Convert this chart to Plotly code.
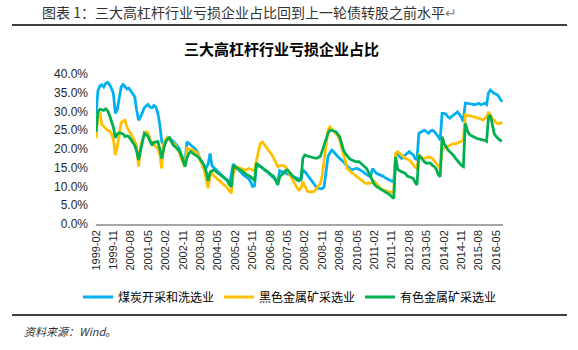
import plotly.graph_objects as go
import pandas as pd

# ---------------- data ----------------
months = [d.strftime('%Y-%m') for d in pd.date_range('1999-02-01', '2016-08-01', freq='MS')]

tick_labels = ['1999-02', '1999-11', '2000-08', '2001-05', '2002-02', '2002-11', '2003-08',
               '2004-05', '2005-02', '2005-11', '2006-08', '2007-05', '2008-02', '2008-11',
               '2009-08', '2010-05', '2011-02', '2011-11', '2012-08', '2013-05', '2014-02',
               '2014-11', '2015-08', '2016-05']

series_names = ['煤炭开采和洗选业', '黑色金属矿采选业', '有色金属矿采选业']

coal = [
    29.5, 35.5, 36.8, 37.1, 36.5, 37.5, 37.8, 37.2, 36.2, 34.8, 29.5,             # 1999
    30.5, 33.5, 36.5, 37.2, 36.5, 36.0, 36.2, 35.5, 35.0, 34.0, 30.5, 27.7,       # 2000
    28.5, 30.0, 31.0, 31.5, 31.9, 31.2, 31.0, 31.6, 31.2, 29.5, 26.5, 22.0,       # 2001
    21.0, 22.0, 23.1, 22.8, 22.5, 22.0, 21.4, 20.8, 20.2, 18.5, 17.5, 16.2,       # 2002
    21.9, 21.5, 21.0, 20.6, 20.2, 19.5, 18.5, 17.0, 16.0, 14.8, 15.0, 16.0,       # 2003
    18.8, 15.5, 15.0, 14.5, 14.0, 13.6, 13.0, 12.5, 12.0, 11.5, 10.5, 13.0,       # 2004
    16.0, 15.5, 15.0, 14.5, 13.8, 13.2, 12.8, 12.5, 12.0, 11.2, 10.0, 10.2,       # 2005
    16.2, 15.5, 15.3, 15.0, 14.5, 14.2, 13.8, 13.2, 12.8, 12.3, 11.8, 11.3,       # 2006
    14.2, 14.0, 13.8, 13.6, 13.4, 13.2, 12.9, 12.7, 12.4, 12.2, 12.0, 11.8,       # 2007
    14.4, 14.0, 13.3, 12.6, 12.0, 11.3, 10.7, 9.8, 9.5, 9.5, 9.4, 10.0,           # 2008
    14.5, 18.0, 19.0, 19.7, 19.2, 18.5, 18.0, 17.5, 17.1, 16.6, 16.0, 15.5,       # 2009
    14.8, 14.4, 14.6, 14.8, 14.8, 14.6, 14.4, 14.0, 13.5, 13.2, 12.9, 12.6,       # 2010
    14.8, 14.0, 13.5, 13.3, 13.1, 13.0, 12.6, 12.2, 11.9, 11.6, 11.3, 11.2,       # 2011
    18.4, 18.8, 18.0, 17.5, 18.0, 18.4, 19.0, 19.3, 18.8, 18.5, 17.5, 17.1,       # 2012
    24.2, 24.6, 24.8, 25.0, 24.5, 24.2, 24.8, 25.0, 24.6, 24.0, 23.3, 22.4,       # 2013
    29.5, 29.5, 29.3, 28.6, 28.2, 28.7, 29.1, 29.5, 29.9, 29.2, 28.5, 27.3,       # 2014
    32.2, 32.2, 32.2, 32.0, 31.9, 31.8, 32.0, 32.2, 31.8, 31.9, 32.2, 31.8,       # 2015
    35.0, 35.7, 35.2, 34.8, 34.6, 34.2, 33.4, 32.6,                               # 2016
]

ferrous = [
    22.9, 29.0, 29.8, 26.5, 26.0, 25.5, 25.0, 24.8, 24.0, 22.5, 18.4,             # 1999
    20.5, 24.0, 27.0, 27.5, 27.7, 25.8, 25.0, 24.2, 23.1, 22.0, 21.0, 15.3,       # 2000
    20.2, 22.5, 23.7, 24.6, 24.2, 22.4, 21.8, 21.0, 20.5, 20.2, 18.5, 14.8,       # 2001
    21.5, 22.5, 23.1, 22.5, 22.1, 21.5, 21.0, 20.0, 19.3, 17.5, 16.5, 15.3,       # 2002
    20.2, 20.0, 19.8, 19.5, 19.5, 19.0, 18.5, 17.0, 15.5, 14.4, 12.0, 9.5,        # 2003
    13.0, 13.5, 12.8, 12.3, 11.8, 11.3, 10.9, 10.5, 10.2, 9.6, 8.8, 8.2,          # 2004
    13.5, 14.5, 15.3, 15.0, 14.8, 14.8, 14.4, 14.5, 14.8, 14.6, 14.4, 14.2,       # 2005
    17.0, 19.5, 21.5, 21.9, 21.2, 20.6, 20.0, 19.3, 18.4, 17.5, 16.6, 15.3,       # 2006
    15.5, 15.7, 15.5, 15.3, 14.4, 13.2, 12.4, 11.5, 10.4, 9.6, 9.1, 9.5,          # 2007
    11.3, 10.0, 9.0, 8.6, 8.5, 8.6, 8.8, 9.5, 10.4, 10.8, 13.0, 17.0,             # 2008
    21.0, 25.0, 25.9, 25.3, 24.8, 24.4, 23.5, 22.4, 20.5, 18.5, 16.5, 14.8,       # 2009
    14.3, 13.8, 13.4, 13.0, 12.6, 12.2, 11.7, 11.3, 11.0, 10.8, 10.8, 10.8,       # 2010
    11.0, 11.3, 10.7, 10.0, 9.6, 9.2, 9.0, 8.8, 8.6, 8.4, 8.4, 8.6,               # 2011
    18.8, 19.3, 18.8, 18.4, 18.0, 17.5, 17.3, 17.1, 16.5, 15.7, 15.2, 14.8,       # 2012
    18.4, 18.0, 17.6, 17.5, 17.7, 17.9, 17.7, 17.5, 16.8, 16.2, 15.5, 14.8,       # 2013
    19.8, 20.3, 20.6, 20.7, 21.0, 21.1, 21.5, 21.4, 21.7, 21.9, 22.0, 22.4,       # 2014
    29.1, 29.0, 28.7, 28.6, 28.7, 28.5, 28.3, 28.2, 28.0, 27.7, 28.0, 28.5,       # 2015
    29.9, 29.0, 28.0, 27.7, 27.0, 26.8, 26.8, 27.2,                               # 2016
]

nonferrous = [
    24.6, 30.0, 30.6, 30.4, 30.3, 30.7, 30.2, 29.0, 27.5, 25.8, 23.0,             # 1999
    24.0, 24.3, 24.2, 24.0, 23.3, 23.5, 23.3, 22.5, 21.5, 21.0, 19.5, 17.1,       # 2000
    19.5, 22.0, 24.2, 23.8, 23.3, 22.0, 21.0, 21.8, 22.0, 22.0, 20.0, 17.5,       # 2001
    20.0, 21.9, 22.6, 23.0, 22.0, 21.0, 20.6, 20.0, 19.5, 18.5, 17.0, 15.3,       # 2002
    17.5, 18.8, 19.3, 18.8, 18.5, 18.2, 17.8, 17.1, 16.5, 15.5, 14.0, 11.5,       # 2003
    13.8, 14.2, 14.4, 14.0, 13.6, 13.3, 13.0, 12.6, 12.2, 11.7, 10.5, 9.9,        # 2004
    15.3, 15.2, 14.9, 14.6, 14.3, 14.0, 13.6, 13.1, 12.8, 12.6, 12.0, 11.7,       # 2005
    16.2, 15.8, 15.3, 14.8, 14.4, 14.0, 13.6, 13.3, 13.0, 12.6, 11.5, 10.4,       # 2006
    12.5, 13.1, 13.8, 14.2, 14.4, 13.8, 13.0, 12.6, 12.2, 11.7, 11.5, 12.0,       # 2007
    17.5, 18.4, 18.2, 18.0, 17.9, 17.8, 17.6, 17.5, 17.8, 18.0, 19.5, 21.0,       # 2008
    23.0, 24.2, 25.0, 25.0, 24.8, 24.6, 24.0, 23.3, 21.5, 19.7, 18.8, 18.0,       # 2009
    17.5, 17.1, 16.8, 16.7, 16.6, 16.6, 16.2, 15.8, 15.3, 14.8, 13.8, 12.8,       # 2010
    11.5, 10.5, 10.0, 9.7, 9.3, 8.9, 8.6, 8.5, 8.2, 7.8, 7.2, 6.8,                # 2011
    17.9, 14.6, 14.2, 13.9, 13.7, 13.5, 12.8, 12.6, 12.4, 12.2, 11.2, 10.4,       # 2012
    18.4, 17.6, 17.1, 16.5, 16.2, 16.3, 16.2, 15.6, 15.3, 14.6, 13.2, 12.6,       # 2013
    23.3, 21.5, 20.5, 19.8, 19.3, 18.8, 18.2, 17.5, 16.8, 16.2, 15.6, 15.3,       # 2014
    26.8, 25.0, 24.0, 23.6, 23.3, 23.0, 22.8, 22.7, 22.6, 22.4, 22.3, 22.0,       # 2015
    28.5, 29.0, 26.0, 24.0, 23.3, 22.8, 22.3, 22.2,                               # 2016
]

colors = ['#00B0F0', '#FFC000', '#00B050']

# ---------------- geometry helpers (pixel -> paper) ----------------
W, H = 578, 350
L, R, T, B = 96, 503, 74, 224


def px(x):
    return (x - L) / (R - L)


def py(y):
    return (B - y) / (B - T)


fig = go.Figure()
for name, vals, col in zip(series_names, [coal, ferrous, nonferrous], colors):
    fig.add_trace(go.Scatter(x=months, y=vals, name=name, mode='lines',
                             line=dict(color=col, width=2.8)))

cjk = 'Noto Sans CJK SC'
lat = 'Liberation Sans, Arial'

fig.update_layout(
    width=W, height=H,
    margin=dict(l=L, r=W - R, t=T, b=H - B, pad=0),
    paper_bgcolor='white', plot_bgcolor='white',
    showlegend=True,
    legend=dict(orientation='h', x=px(78), y=py(297), xanchor='left', yanchor='middle',
                font=dict(family=cjk, size=12, color='#000000'),
                entrywidth=96, entrywidthmode='pixels', bgcolor='rgba(0,0,0,0)',
                tracegroupgap=0),
    xaxis=dict(type='category', range=[0, 210.5], showgrid=False, zeroline=False,
               showline=True, linecolor='#A6A6A6', linewidth=1.5,
               tickmode='array', tickvals=tick_labels, ticktext=tick_labels,
               tickangle=-90, ticks='', tickfont=dict(family=lat, size=11, color='#262626')),
    yaxis=dict(range=[0, 40], dtick=5, tick0=0, showgrid=False, zeroline=False,
               showline=False, ticks='', tickformat='.1f', ticksuffix='%',
               ticklabelstandoff=7,
               tickfont=dict(family=lat, size=12, color='#262626')),
)

shapes = [
    dict(type='line', xref='paper', yref='paper', x0=px(12), x1=px(567), y0=py(25), y1=py(25),
         line=dict(color='#000000', width=1.5)),
    dict(type='line', xref='paper', yref='paper', x0=px(12), x1=px(567), y0=py(315), y1=py(315),
         line=dict(color='#000000', width=1.5)),
]
fig.update_layout(shapes=shapes)

fig.add_annotation(xref='paper', yref='paper', x=px(40), y=py(12), xanchor='left', yanchor='middle',
                   text='图表 1：三大高杠杆行业亏损企业占比回到上一轮债转股之前水平<span style="color:#888">↵</span>',
                   showarrow=False, font=dict(family=cjk, size=14, color='#333333'))
fig.add_annotation(xref='paper', yref='paper', x=px(281), y=py(48), xanchor='center', yanchor='middle',
                   text='<b>三大高杠杆行业亏损企业占比</b>', showarrow=False,
                   font=dict(family=cjk, size=15, color='#000000'))
fig.add_annotation(xref='paper', yref='paper', x=px(22), y=py(331), xanchor='left', yanchor='middle',
                   text='<i>资料来源：Wind。</i>', showarrow=False,
                   font=dict(family=cjk, size=11, color='#333333'))

fig.write_html('out.html')
